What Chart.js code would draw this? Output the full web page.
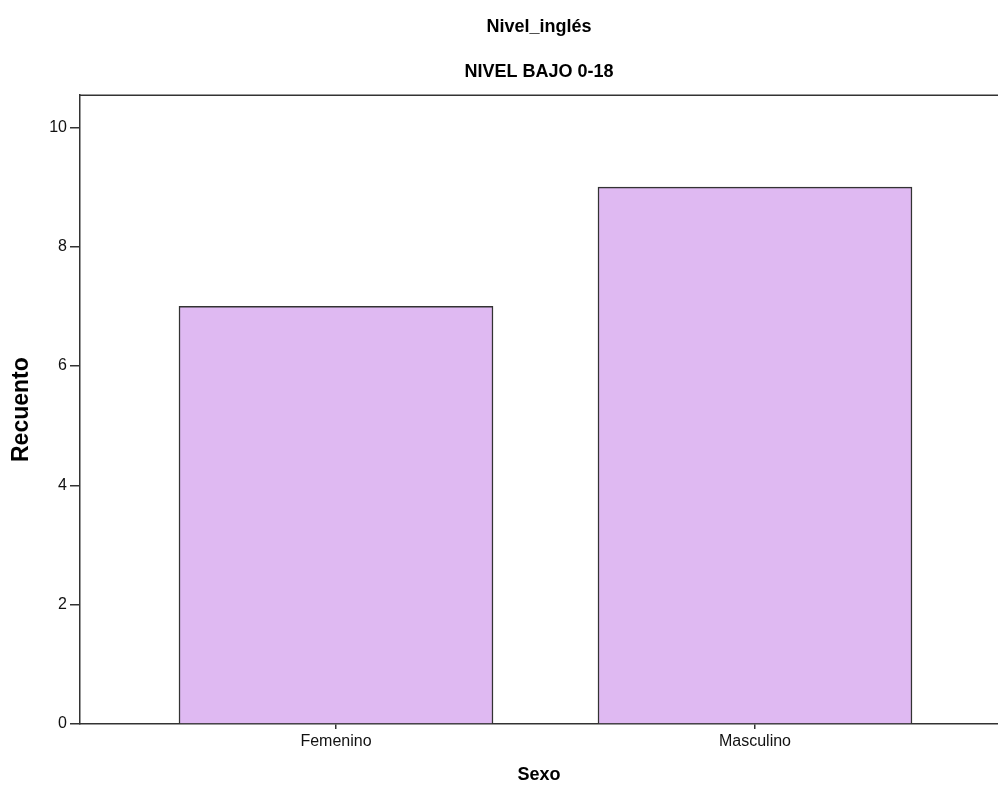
<!DOCTYPE html>
<html>
<head>
<meta charset="utf-8">
<script src="https://cdn.jsdelivr.net/npm/chart.js@4/dist/chart.umd.min.js"></script>
<style>
html,body{margin:0;padding:0;background:#fff;}
#wrap{width:998px;height:797px;}
</style>
</head>
<body>
<div id="wrap"><canvas id="c" width="998" height="797"></canvas></div>
<script>
const titleText = 'Nivel_inglés';
const subtitleText = 'NIVEL BAJO 0-18';
const categories = ['Femenino', 'Masculino'];
const counts = [7, 9];
const yTicks = [0, 2, 4, 6, 8, 10];
const xAxisTitle = 'Sexo';
const yAxisTitle = 'Recuento';

const FONT = "'Liberation Sans', Arial, sans-serif";

const topBorder = {
  id: 'topBorder',
  afterDraw(chart) {
    const a = chart.chartArea, ctx = chart.ctx;
    ctx.save();
    ctx.strokeStyle = '#333333';
    ctx.lineWidth = 1.5;
    ctx.beginPath();
    ctx.moveTo(a.left, a.top);
    ctx.lineTo(chart.width, a.top);
    ctx.stroke();
    ctx.restore();
  }
};

new Chart(document.getElementById('c'), {
  type: 'bar',
  data: {
    datasets: [{
      data: categories.map((c, i) => ({ x: i + 1, y: counts[i] })),
      backgroundColor: '#DFB9F2',
      borderColor: '#333333',
      borderWidth: 1.5,
      barThickness: 314
    }]
  },
  options: {
    responsive: false,
    animation: false,
    layout: { padding: 0 },
    plugins: {
      legend: { display: false },
      tooltip: { enabled: false },
      title: {
        display: true, text: titleText, fullSize: false, color: '#000',
        font: { family: FONT, size: 18, weight: 'bold' },
        padding: { top: 16, bottom: 12 }
      },
      subtitle: {
        display: true, text: subtitleText, fullSize: false, color: '#000',
        font: { family: FONT, size: 18, weight: 'bold' },
        padding: { top: 12, bottom: 12 }
      }
    },
    scales: {
      x: {
        type: 'linear',
        offset: false,
        min: 0.389, max: 2.58,
        afterFit(s) { s.height = 73; },
        afterBuildTicks(s) { s.ticks = categories.map((c, i) => ({ value: i + 1 })); },
        ticks: {
          callback: (v) => categories[v - 1] ?? '',
          color: '#111', font: { family: FONT, size: 16 }, padding: 3,
          maxRotation: 0, autoSkip: false
        },
        grid: { display: true, offset: false, drawOnChartArea: false, drawTicks: true, tickLength: 5, lineWidth: 1.5, color: '#333333', tickColor: '#333333' },
        border: { display: true, color: '#333333', width: 1.5 },
        title: {
          display: true, text: xAxisTitle, color: '#000',
          font: { family: FONT, size: 18, weight: 'bold' },
          padding: { top: 11, bottom: 11 }
        }
      },
      y: {
        min: 0, max: 10.54,
        afterFit(s) { s.width = 80; },
        afterBuildTicks(s) { s.ticks = yTicks.map(v => ({ value: v })); },
        ticks: { color: '#111', font: { family: FONT, size: 16 }, padding: 3 },
        grid: { display: true, drawOnChartArea: false, drawTicks: true, tickLength: 10, lineWidth: 1.5, color: '#333333', tickColor: '#333333' },
        border: { display: true, color: '#333333', width: 1.5 },
        title: {
          display: true, text: yAxisTitle, color: '#000',
          font: { family: FONT, size: 23, weight: 'bold' },
          padding: { top: 8, bottom: 8 }
        }
      }
    }
  },
  plugins: [topBorder]
});
</script>
</body>
</html>
